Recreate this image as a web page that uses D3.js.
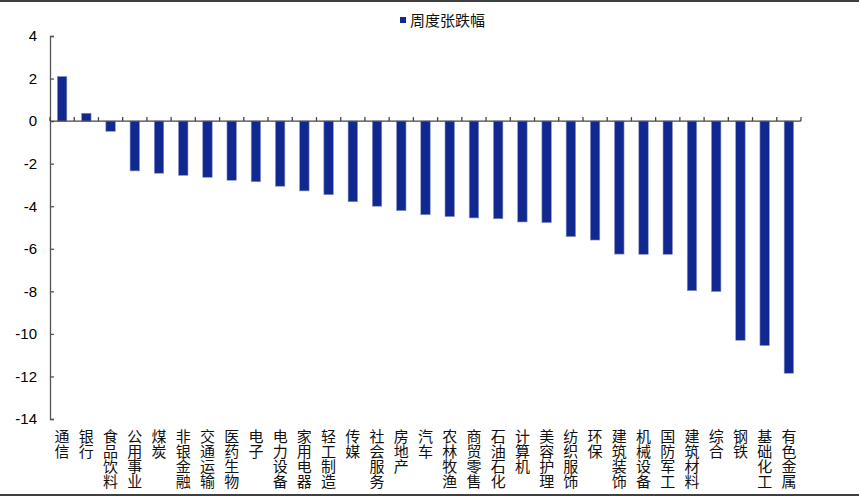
<!DOCTYPE html>
<html>
<head>
<meta charset="utf-8">
<script src="https://cdn.jsdelivr.net/npm/d3@7"></script>
<style>
  body { margin: 0; background: #fff; }
  svg { display: block; }
</style>
</head>
<body>
<svg id="chart" width="860" height="496"></svg>
<script>
const categories = ["通信", "银行", "食品饮料", "公用事业", "煤炭", "非银金融", "交通运输", "医药生物",
  "电子", "电力设备", "家用电器", "轻工制造", "传媒", "社会服务", "房地产", "汽车",
  "农林牧渔", "商贸零售", "石油石化", "计算机", "美容护理", "纺织服饰", "环保", "建筑装饰",
  "机械设备", "国防军工", "建筑材料", "综合", "钢铁", "基础化工", "有色金属"];
const weeklyChange = [2.1, 0.37, -0.48, -2.34, -2.45, -2.55, -2.64, -2.78,
  -2.85, -3.06, -3.28, -3.46, -3.79, -4.0, -4.21, -4.4,
  -4.49, -4.55, -4.59, -4.74, -4.77, -5.43, -5.59, -6.25,
  -6.26, -6.26, -7.97, -8.01, -10.3, -10.55, -11.85];
const yTicks = [4, 2, 0, -2, -4, -6, -8, -10, -12, -14];
const seriesName = "周度张跌幅";

const svg = d3.select("#chart");
const margin = { top: 36, right: 59, bottom: 77, left: 50 };
const width = 860, height = 496;
const barColor = "#10288f";
const cjk = "'Noto Sans CJK SC', sans-serif";

// frame lines top and bottom
svg.append("line").attr("x1", 0).attr("x2", 859).attr("y1", 1).attr("y2", 1)
  .attr("stroke", "#000").attr("stroke-width", 1.5);
svg.append("line").attr("x1", 0).attr("x2", 859).attr("y1", 495).attr("y2", 495)
  .attr("stroke", "#000").attr("stroke-width", 1.5);

const x = d3.scaleBand()
  .domain(categories)
  .range([margin.left, width - margin.right])
  .paddingInner(0.61)
  .paddingOuter(0.305);

const y = d3.scaleLinear().domain([-14, 4]).range([height - margin.bottom, margin.top]);

// bars
svg.append("g")
  .selectAll("rect")
  .data(weeklyChange)
  .join("rect")
  .attr("x", (d, i) => x(categories[i]))
  .attr("width", x.bandwidth())
  .attr("y", (d) => y(Math.max(0, d)))
  .attr("height", (d) => Math.abs(y(d) - y(0)))
  .attr("fill", barColor)
  .attr("stroke", "#8b97c8")
  .attr("stroke-width", 0.6);

// y axis
const yAxis = d3.axisLeft(y).tickValues(yTicks).tickSize(-4).tickPadding(13)
  .tickFormat(d3.format("d"));
const gy = svg.append("g").attr("transform", `translate(${margin.left},0)`).call(yAxis);
gy.select(".domain").attr("stroke", "#555").attr("stroke-width", 1.3);
gy.selectAll(".tick line").attr("stroke", "#555").attr("stroke-width", 1.3);
gy.selectAll("text")
  .attr("font-family", "'Liberation Sans', Arial, sans-serif")
  .attr("font-size", 15)
  .attr("fill", "#000")
  .text((d) => (d < 0 ? "-" + Math.abs(d) : d));

// zero line with category boundary ticks
const x0 = x.range()[0], x1 = x.range()[1];
svg.append("line").attr("x1", x0).attr("x2", x1).attr("y1", y(0)).attr("y2", y(0))
  .attr("stroke", "#444").attr("stroke-width", 1.3);
const step = x.step();
const bounds = d3.range(categories.length + 1).map((i) => x0 + i * step);
svg.append("g")
  .selectAll("line")
  .data(bounds)
  .join("line")
  .attr("x1", (d) => d).attr("x2", (d) => d)
  .attr("y1", y(0) - 4).attr("y2", y(0))
  .attr("stroke", "#444").attr("stroke-width", 1.3);

// vertical category labels
svg.append("g")
  .attr("font-family", cjk)
  .attr("font-size", 15)
  .attr("fill", "#111")
  .selectAll("text")
  .data(categories)
  .join("text")
  .attr("x", (d) => x(d) + x.bandwidth() / 2)
  .attr("y", 429)
  .style("writing-mode", "vertical-rl")
  .style("text-orientation", "upright")
  .text((d) => d);

// legend
svg.append("rect").attr("x", 400).attr("y", 17).attr("width", 6).attr("height", 6)
  .attr("fill", barColor);
svg.append("text").attr("x", 410).attr("y", 26)
  .attr("font-family", cjk).attr("font-size", 15).attr("fill", "#111")
  .text(seriesName);
</script>
</body>
</html>
